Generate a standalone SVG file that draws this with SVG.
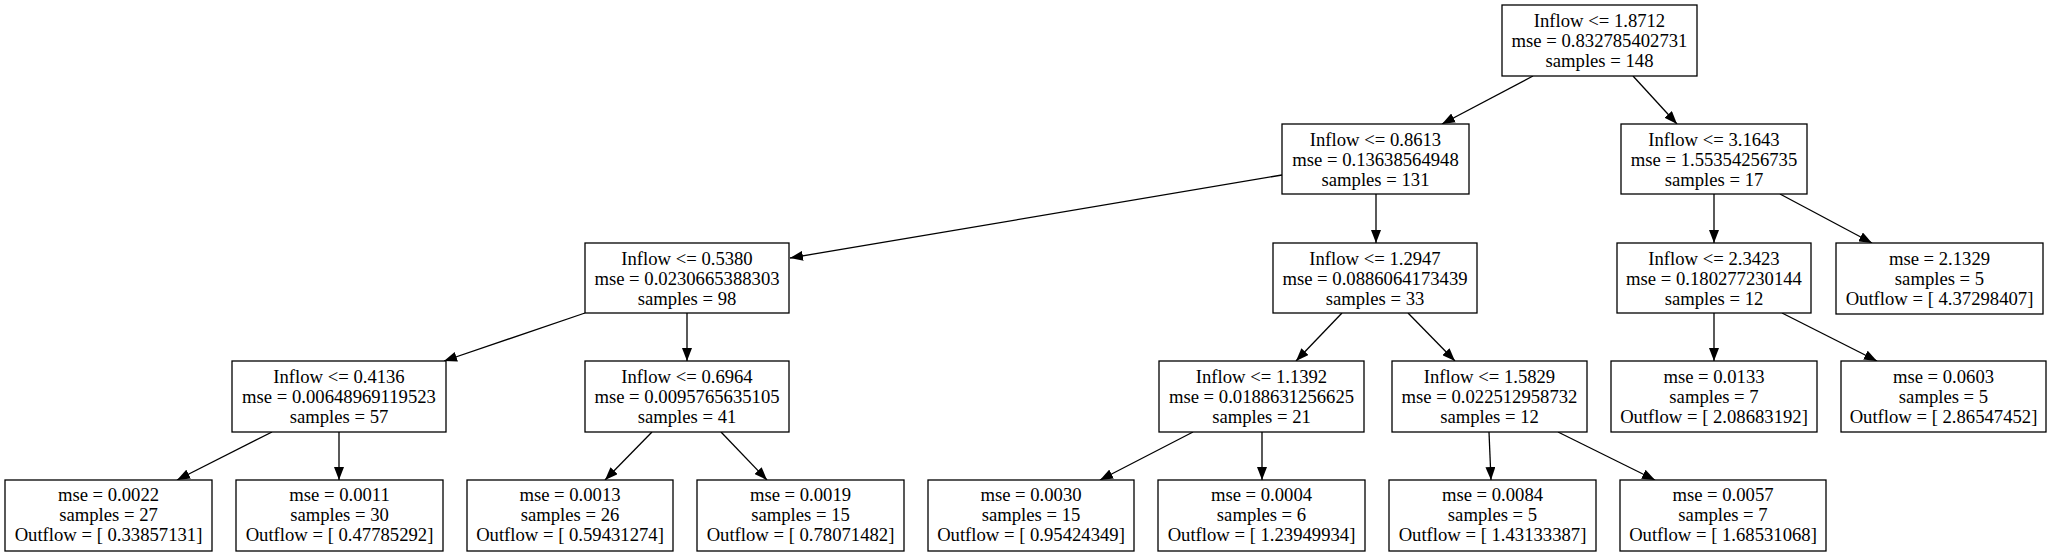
<svg xmlns="http://www.w3.org/2000/svg" width="2053" height="556" viewBox="0 0 2053 556">
<style>
.box{fill:#fff;stroke:#000;stroke-width:1.3}
text{font-family:"Liberation Serif","Times New Roman",serif;font-size:18.67px;text-anchor:middle;fill:#000}
.e{stroke:#000;stroke-width:1.3;fill:none;marker-end:url(#ah)}
</style>
<defs>
<marker id="ah" viewBox="0 0 13 10" refX="13" refY="5" markerWidth="13" markerHeight="10" orient="auto" markerUnits="userSpaceOnUse">
<path d="M0,0 L13,5 L0,10 z" fill="#000"/>
</marker>
</defs>
<rect width="2053" height="556" fill="#fff"/>
<g id="edges">
<line class="e" x1="1533" y1="76" x2="1442" y2="124"/>
<line class="e" x1="1633" y1="76" x2="1677" y2="124"/>
<line class="e" x1="1282" y1="175" x2="790" y2="258"/>
<line class="e" x1="1376" y1="194" x2="1376" y2="243"/>
<line class="e" x1="1714" y1="194" x2="1714" y2="243"/>
<line class="e" x1="1780" y1="194" x2="1872" y2="243"/>
<line class="e" x1="585" y1="313" x2="444" y2="361"/>
<line class="e" x1="687" y1="313" x2="687" y2="361"/>
<line class="e" x1="272" y1="432" x2="177" y2="480"/>
<line class="e" x1="339" y1="432" x2="339" y2="480"/>
<line class="e" x1="652" y1="432" x2="605" y2="480"/>
<line class="e" x1="721" y1="432" x2="767" y2="480"/>
<line class="e" x1="1342" y1="313" x2="1296" y2="361"/>
<line class="e" x1="1408" y1="313" x2="1455" y2="361"/>
<line class="e" x1="1193" y1="432" x2="1100" y2="480"/>
<line class="e" x1="1262" y1="432" x2="1262" y2="480"/>
<line class="e" x1="1489" y1="432" x2="1491" y2="480"/>
<line class="e" x1="1558" y1="432" x2="1655" y2="480"/>
<line class="e" x1="1714" y1="313" x2="1714" y2="361"/>
<line class="e" x1="1782" y1="313" x2="1877" y2="361"/>
</g>
<g id="n0"><rect class="box" x="1502" y="5" width="195" height="71"/><text x="1599.5" y="27">Inflow &lt;= 1.8712</text><text x="1599.5" y="47">mse = 0.832785402731</text><text x="1599.5" y="67">samples = 148</text></g>
<g id="n1"><rect class="box" x="1282" y="124" width="187" height="70"/><text x="1375.5" y="146">Inflow &lt;= 0.8613</text><text x="1375.5" y="166">mse = 0.13638564948</text><text x="1375.5" y="186">samples = 131</text></g>
<g id="n2"><rect class="box" x="1621" y="124" width="186" height="70"/><text x="1714" y="146">Inflow &lt;= 3.1643</text><text x="1714" y="166">mse = 1.55354256735</text><text x="1714" y="186">samples = 17</text></g>
<g id="n3"><rect class="box" x="585" y="243" width="204" height="70"/><text x="687" y="265">Inflow &lt;= 0.5380</text><text x="687" y="285">mse = 0.0230665388303</text><text x="687" y="305">samples = 98</text></g>
<g id="n4"><rect class="box" x="1273" y="243" width="204" height="70"/><text x="1375" y="265">Inflow &lt;= 1.2947</text><text x="1375" y="285">mse = 0.0886064173439</text><text x="1375" y="305">samples = 33</text></g>
<g id="n5"><rect class="box" x="1617" y="243" width="194" height="70"/><text x="1714" y="265">Inflow &lt;= 2.3423</text><text x="1714" y="285">mse = 0.180277230144</text><text x="1714" y="305">samples = 12</text></g>
<g id="n6"><rect class="box" x="1836" y="243" width="207" height="71"/><text x="1939.5" y="265">mse = 2.1329</text><text x="1939.5" y="285">samples = 5</text><text x="1939.5" y="305">Outflow = [ 4.37298407]</text></g>
<g id="n7"><rect class="box" x="232" y="361" width="214" height="71"/><text x="339" y="383">Inflow &lt;= 0.4136</text><text x="339" y="403">mse = 0.00648969119523</text><text x="339" y="423">samples = 57</text></g>
<g id="n8"><rect class="box" x="585" y="361" width="204" height="71"/><text x="687" y="383">Inflow &lt;= 0.6964</text><text x="687" y="403">mse = 0.0095765635105</text><text x="687" y="423">samples = 41</text></g>
<g id="n9"><rect class="box" x="1159" y="361" width="205" height="71"/><text x="1261.5" y="383">Inflow &lt;= 1.1392</text><text x="1261.5" y="403">mse = 0.0188631256625</text><text x="1261.5" y="423">samples = 21</text></g>
<g id="n10"><rect class="box" x="1392" y="361" width="195" height="71"/><text x="1489.5" y="383">Inflow &lt;= 1.5829</text><text x="1489.5" y="403">mse = 0.022512958732</text><text x="1489.5" y="423">samples = 12</text></g>
<g id="n11"><rect class="box" x="1611" y="361" width="206" height="71"/><text x="1714" y="383">mse = 0.0133</text><text x="1714" y="403">samples = 7</text><text x="1714" y="423">Outflow = [ 2.08683192]</text></g>
<g id="n12"><rect class="box" x="1841" y="361" width="205" height="71"/><text x="1943.5" y="383">mse = 0.0603</text><text x="1943.5" y="403">samples = 5</text><text x="1943.5" y="423">Outflow = [ 2.86547452]</text></g>
<g id="n13"><rect class="box" x="5" y="480" width="207" height="71"/><text x="108.5" y="501">mse = 0.0022</text><text x="108.5" y="521">samples = 27</text><text x="108.5" y="541">Outflow = [ 0.33857131]</text></g>
<g id="n14"><rect class="box" x="236" y="480" width="207" height="71"/><text x="339.5" y="501">mse = 0.0011</text><text x="339.5" y="521">samples = 30</text><text x="339.5" y="541">Outflow = [ 0.47785292]</text></g>
<g id="n15"><rect class="box" x="467" y="480" width="206" height="71"/><text x="570" y="501">mse = 0.0013</text><text x="570" y="521">samples = 26</text><text x="570" y="541">Outflow = [ 0.59431274]</text></g>
<g id="n16"><rect class="box" x="697" y="480" width="207" height="71"/><text x="800.5" y="501">mse = 0.0019</text><text x="800.5" y="521">samples = 15</text><text x="800.5" y="541">Outflow = [ 0.78071482]</text></g>
<g id="n17"><rect class="box" x="928" y="480" width="206" height="71"/><text x="1031" y="501">mse = 0.0030</text><text x="1031" y="521">samples = 15</text><text x="1031" y="541">Outflow = [ 0.95424349]</text></g>
<g id="n18"><rect class="box" x="1158" y="480" width="207" height="71"/><text x="1261.5" y="501">mse = 0.0004</text><text x="1261.5" y="521">samples = 6</text><text x="1261.5" y="541">Outflow = [ 1.23949934]</text></g>
<g id="n19"><rect class="box" x="1389" y="480" width="207" height="71"/><text x="1492.5" y="501">mse = 0.0084</text><text x="1492.5" y="521">samples = 5</text><text x="1492.5" y="541">Outflow = [ 1.43133387]</text></g>
<g id="n20"><rect class="box" x="1620" y="480" width="206" height="71"/><text x="1723" y="501">mse = 0.0057</text><text x="1723" y="521">samples = 7</text><text x="1723" y="541">Outflow = [ 1.68531068]</text></g>
</svg>
